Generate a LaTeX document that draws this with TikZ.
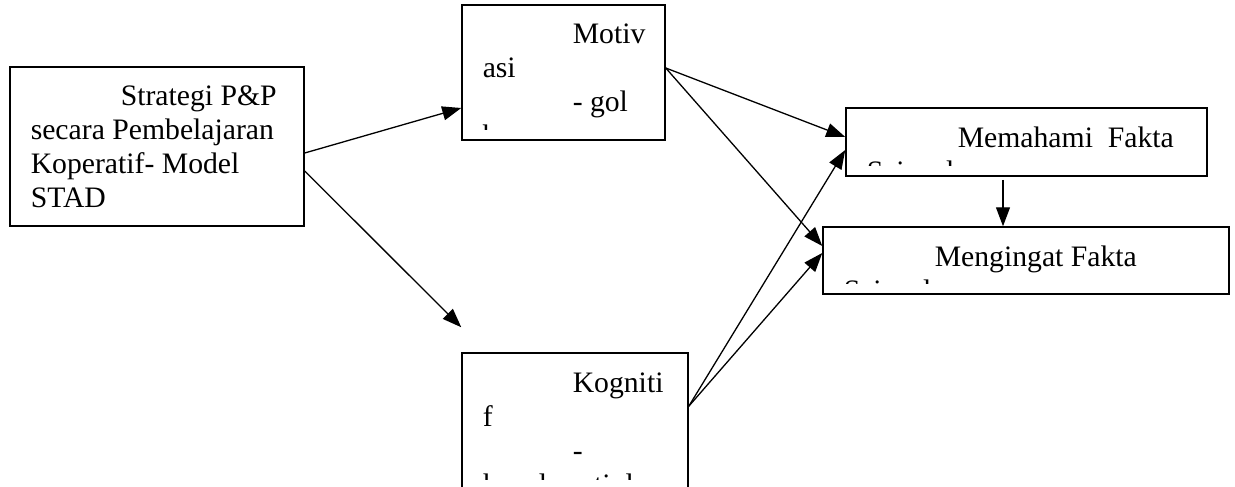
\documentclass[tikz,border=0pt]{standalone}
\usepackage{fontspec}
\setmainfont{Liberation Serif}
\usetikzlibrary{arrows.meta,positioning}
\tikzset{
    %Define standard arrow tip
    >={Triangle[length=19pt,width=14pt]},
    %Define style for boxes
    block/.style={
           rectangle,
           draw=black,
           line width=1.5pt,
           inner sep=0pt},
    %Define style for the (clipped) text of a box
    boxtext/.style={
           path picture={
               \clip ([yshift=11pt]path picture bounding box.south west)
                   rectangle (path picture bounding box.north east);
               \node[anchor=base west, inner sep=0pt]
                   at ([xshift=20pt,yshift=-39pt]path picture bounding box.north west)
                   {\parbox[t]{420pt}{\fontsize{29.7}{34}\selectfont #1}};
           }},
    % Define arrow style
    arrow/.style={
           ->,
           line width=1.3pt,
           }
}
\begin{document}
\begin{tikzpicture}[x=1pt, y=-1pt]
    \useasboundingbox (0,0) rectangle (1235,487);

    \node [block, minimum width=294pt, minimum height=159pt,
           boxtext={\hspace*{90pt}Strategi P\&P\\secara Pembelajaran\\Koperatif- Model\\STAD}]
           (strat) at (157,146.5) {};
    \node [block, minimum width=203pt, minimum height=135pt,
           boxtext={\hspace*{90pt}Motiv\\asi\\\hspace*{90pt}- gol\\bersama}]
           (motiv) at (563.5,72.5) {};
    \node [block, minimum width=226pt, minimum height=137pt,
           boxtext={\hspace*{90pt}Kogniti\\f\\\hspace*{90pt}-\\kenal pasti dan}]
           (kogn) at (575,421.5) {};
    \node [block, minimum width=361pt, minimum height=68pt,
           boxtext={\hspace*{91pt}Memahami\ \ Fakta\\Sains dan}]
           (paham) at (1026.5,142) {};
    \node [block, minimum width=406pt, minimum height=67pt,
           boxtext={\hspace*{91pt}Mengingat Fakta\\Sains dan}]
           (ingat) at (1026,260.5) {};

	\path[->] ([yshift=-6.5pt]strat.east) edge[arrow] ([yshift=-35.5pt]motiv.west);
	\path[->] ([yshift=-24.5pt]strat.east) edge[arrow] ([yshift=25pt]kogn.north west);
	\path[->] ([yshift=4.5pt]motiv.east) edge[arrow] ([yshift=5pt]paham.west);
	\path[->] ([yshift=4.5pt]motiv.east) edge[arrow] ([yshift=14.5pt]ingat.west);
	\path[->] ([yshift=-54pt]kogn.north east) edge[arrow] ([yshift=-8pt]paham.west);
	\path[->] ([yshift=-54pt]kogn.north east) edge[arrow] ([yshift=7.5pt]ingat.west);
	\path[->] ([xshift=-23.5pt,yshift=-3pt]paham.south) edge[arrow] ([xshift=-23pt]ingat.north);
\end{tikzpicture}
\end{document}
